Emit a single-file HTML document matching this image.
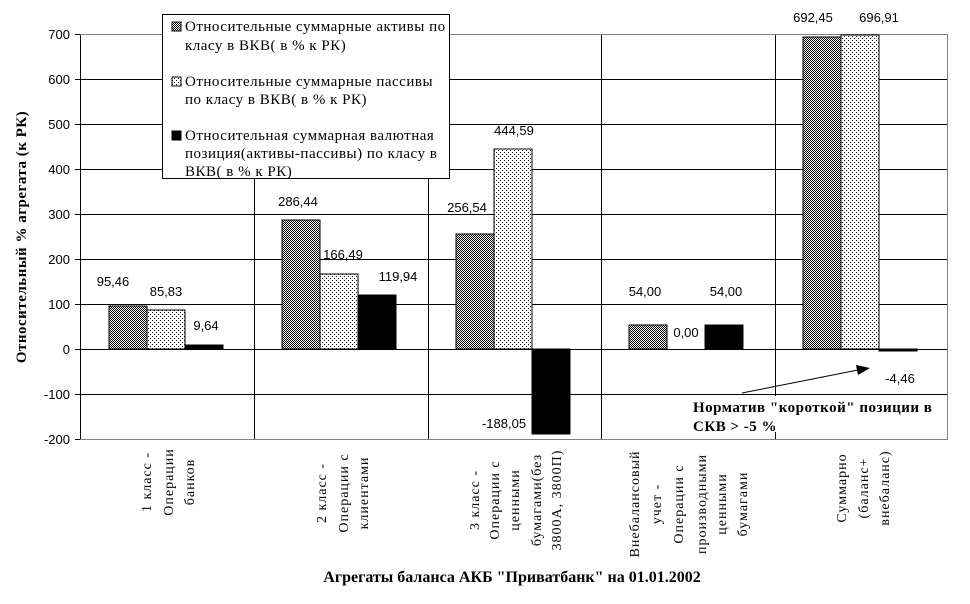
<!DOCTYPE html>
<html><head><meta charset="utf-8"><style>
html,body{margin:0;padding:0;background:#fff;}
svg{display:block;}
.t{font-family:"Liberation Serif","DejaVu Serif",serif;}
.n{font-family:"Liberation Sans","DejaVu Sans",sans-serif;font-size:13px;}
</style></head><body>
<svg width="970" height="604" xmlns="http://www.w3.org/2000/svg">
<defs>
<pattern id="pa" width="2" height="2" patternUnits="userSpaceOnUse">
<rect width="2" height="2" fill="#fff"/><rect x="0" y="0" width="1" height="1" fill="#000"/><rect x="1" y="1" width="1" height="1" fill="#000"/>
</pattern>
<pattern id="pp" width="4" height="4" patternUnits="userSpaceOnUse">
<rect width="4" height="4" fill="#fff"/><rect x="0" y="0" width="1" height="1" fill="#000"/><rect x="2" y="2" width="1" height="1" fill="#000"/>
</pattern>
</defs>
<rect width="970" height="604" fill="#fff"/>
<g stroke="#000" stroke-width="1">
<line x1="80" y1="79.5" x2="948" y2="79.5"/>
<line x1="80" y1="124.5" x2="948" y2="124.5"/>
<line x1="80" y1="169.5" x2="948" y2="169.5"/>
<line x1="80" y1="214.5" x2="948" y2="214.5"/>
<line x1="80" y1="259.5" x2="948" y2="259.5"/>
<line x1="80" y1="304.5" x2="948" y2="304.5"/>
<line x1="80" y1="349.5" x2="948" y2="349.5"/>
<line x1="80" y1="394.5" x2="948" y2="394.5"/>
<line x1="254.5" y1="34" x2="254.5" y2="439"/>
<line x1="428.5" y1="34" x2="428.5" y2="439"/>
<line x1="601.5" y1="34" x2="601.5" y2="439"/>
<line x1="775.5" y1="34" x2="775.5" y2="439"/>
<line x1="80.5" y1="34" x2="80.5" y2="439"/>
</g>
<line x1="80" y1="34.5" x2="948" y2="34.5" stroke="#808080"/>
<line x1="80" y1="439.5" x2="948" y2="439.5" stroke="#808080"/>
<line x1="947.5" y1="34" x2="947.5" y2="439" stroke="#808080"/>
<g stroke="#000"><line x1="75" y1="34.5" x2="80" y2="34.5"/><line x1="75" y1="79.5" x2="80" y2="79.5"/><line x1="75" y1="124.5" x2="80" y2="124.5"/><line x1="75" y1="169.5" x2="80" y2="169.5"/><line x1="75" y1="214.5" x2="80" y2="214.5"/><line x1="75" y1="259.5" x2="80" y2="259.5"/><line x1="75" y1="304.5" x2="80" y2="304.5"/><line x1="75" y1="349.5" x2="80" y2="349.5"/><line x1="75" y1="394.5" x2="80" y2="394.5"/><line x1="75" y1="439.5" x2="80" y2="439.5"/></g>
<g class="n" text-anchor="end">
<text x="70" y="39">700</text><text x="70" y="84">600</text><text x="70" y="129">500</text><text x="70" y="174">400</text><text x="70" y="219">300</text><text x="70" y="264">200</text><text x="70" y="309">100</text><text x="70" y="354">0</text><text x="70" y="399">-100</text><text x="70" y="444">-200</text>
</g>
<text class="t" transform="translate(26,237) rotate(-90)" text-anchor="middle" font-size="15" font-weight="bold" letter-spacing="0.5">Относительный % агрегата (к РК)</text>
<g stroke="#000" stroke-width="1">
<rect x="109" y="306" width="38" height="43" fill="url(#pa)"/>
<rect x="147" y="310" width="38" height="39" fill="url(#pp)"/>
<rect x="185" y="345" width="38" height="4" fill="#000"/>
<rect x="282" y="220" width="38" height="129" fill="url(#pa)"/>
<rect x="320" y="274" width="38" height="75" fill="url(#pp)"/>
<rect x="358" y="295" width="38" height="54" fill="#000"/>
<rect x="456" y="234" width="38" height="115" fill="url(#pa)"/>
<rect x="494" y="149" width="38" height="200" fill="url(#pp)"/>
<rect x="532" y="349" width="38" height="85" fill="#000"/>
<rect x="629" y="325" width="38" height="24" fill="url(#pa)"/>
<rect x="705" y="325" width="38" height="24" fill="#000"/>
<rect x="803" y="37" width="38" height="312" fill="url(#pa)"/>
<rect x="841" y="35" width="38" height="314" fill="url(#pp)"/>
<rect x="879" y="349" width="38" height="2" fill="#000"/>
</g>
<g class="n" text-anchor="middle">
<text x="113" y="286">95,46</text><text x="166" y="296">85,83</text><text x="206" y="330">9,64</text>
<text x="298" y="206">286,44</text><text x="343" y="259">166,49</text><text x="398" y="281">119,94</text>
<text x="467" y="212">256,54</text><text x="514" y="135">444,59</text><text x="504" y="428">-188,05</text>
<text x="645" y="296">54,00</text><text x="686" y="337">0,00</text><text x="726" y="296">54,00</text>
<text x="813" y="22">692,45</text><text x="879" y="22">696,91</text><text x="900" y="383">-4,46</text>
</g>
<rect x="691" y="396" width="243" height="36" fill="#fff"/>
<line x1="742" y1="393" x2="858" y2="370" stroke="#000"/>
<polygon points="870,368 856,365 858,375" fill="#000"/>
<text class="t" x="693" y="412" font-size="15" font-weight="bold" letter-spacing="0.5">Норматив "короткой" позиции в</text>
<text class="t" x="693" y="431" font-size="15" font-weight="bold" letter-spacing="0.5">СКВ &gt; -5 %</text>
<rect x="162.5" y="14.5" width="287" height="164" fill="#fff" stroke="#000"/>
<rect x="172" y="22" width="9" height="9" fill="url(#pa)" stroke="#000"/>
<rect x="172" y="77" width="9" height="9" fill="url(#pp)" stroke="#000"/>
<rect x="172" y="131" width="9" height="9" fill="#000" stroke="#000"/>
<g class="t" font-size="15" letter-spacing="0.5">
<text x="185" y="31">Относительные суммарные активы по</text>
<text x="185" y="50">класу в ВКВ( в % к РК)</text>
<text x="185" y="86">Относительные суммарные пассивы</text>
<text x="185" y="104">по класу в ВКВ( в % к РК)</text>
<text x="185" y="140">Относительная суммарная валютная</text>
<text x="185" y="158">позиция(активы-пассивы) по класу в</text>
<text x="185" y="176">ВКВ( в % к РК)</text>
</g>
<g class="t" font-size="14" text-anchor="middle" letter-spacing="1">
<g transform="translate(151,482) rotate(-90)"><text x="0" y="0">1 класс -</text><text x="0" y="22">Операции</text><text x="0" y="43">банков</text></g>
<g transform="translate(326,493) rotate(-90)"><text x="0" y="0">2 класс -</text><text x="0" y="22">Операции с</text><text x="0" y="42">клиентами</text></g>
<g transform="translate(479,500) rotate(-90)"><text x="0" y="0">3 класс -</text><text x="0" y="20">Операции с</text><text x="0" y="40">ценными</text><text x="0" y="62">бумагами(без</text><text x="0" y="82">3800А, 3800П)</text></g>
<g transform="translate(639,504) rotate(-90)"><text x="0" y="0">Внебалансовый</text><text x="0" y="22">учет -</text><text x="0" y="44">Операции с</text><text x="0" y="67">производными</text><text x="0" y="87">ценными</text><text x="0" y="108">бумагами</text></g>
<g transform="translate(846,488) rotate(-90)"><text x="0" y="0">Суммарно</text><text x="0" y="22">(баланс+</text><text x="0" y="43">внебаланс)</text></g>
</g>
<text class="t" x="512" y="582" text-anchor="middle" font-size="16" font-weight="bold">Агрегаты баланса АКБ "Приватбанк" на 01.01.2002</text>
</svg>
</body></html>
